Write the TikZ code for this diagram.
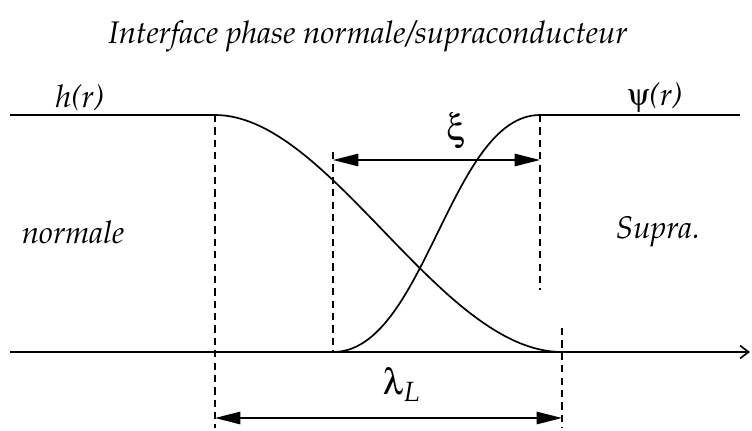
\documentclass[tikz,border=0pt]{standalone}
\usepackage[T1]{fontenc}
\usepackage{mathpazo}
\usepackage[Symbol]{upgreek}
\usetikzlibrary{arrows.meta,positioning,calc}

\tikzset{
  curve/.style={line width=0.6pt},
  guide/.style={line width=0.45pt, dash pattern=on 2.6pt off 1.8pt},
  dimarrow/.style={line width=0.6pt, {Triangle[length=9pt,width=4.4pt]}-{Triangle[length=9pt,width=4.4pt]}},
  lbl/.style={font=\fontsize{11.1}{13}\selectfont\itshape, inner sep=1pt},
  greek/.style={font=\fontsize{13}{15}\selectfont, inner sep=1pt}
}

\begin{document}
\begin{tikzpicture}[x=0.0125cm, y=-0.0125cm]
  \useasboundingbox (0,0) rectangle (752,430);

  % Title
  \node[lbl] (title) at (368,37) {Interface phase normale/supraconducteur};

  % Key points
  \coordinate (hstart) at (215,115);
  \coordinate (hend) at (562,352);
  \coordinate (pstart) at (333,352);
  \coordinate (pend) at (540,115);
  \coordinate (axisL) at (10,352);
  \coordinate (axisR) at (750,352);

  % Axis and plateaus
  \draw[curve, -{Straight Barb[length=3pt,width=4.5pt]}] (axisL) -- (axisR);
  \draw[curve] (10,115) -- (hstart);
  \draw[curve] (pend) -- (740,115);

  % h(r) and psi(r)
  \draw[curve] (hstart) .. controls (330,115) and (440,352) .. (hend);
  \draw[curve] (pstart) .. controls (425,352) and (450,115) .. (pend);

  % Dashed guides
  \draw[guide] (hstart) -- (215,428);
  \draw[guide] (333,152) -- (pstart);
  \draw[guide] (pend) -- (540,290);
  \draw[guide] (562,328) -- (562,428);

  % Widths
  \coordinate (xiL) at (333,160);
  \coordinate (xiR) at (540,160);
  \coordinate (laL) at (215,418);
  \coordinate (laR) at (562,418);
  \draw[dimarrow] (xiL) -- (xiR);
  \draw[dimarrow] (laL) -- (laR);
  \node[greek] (xi) at (456,131) {$\upxi$};
  \node[greek] (lam) at (402,385) {$\uplambda_L$};

  % Labels
  \node[lbl] (h) at (80,98) {h(r)};
  \node[lbl] (psi) at (655,98) {$\uppsi$(r)};
  \node[lbl] (normale) at (73,232) {normale};
  \node[lbl] (supra) at (658,232) {Supra.};
\end{tikzpicture}
\end{document}
